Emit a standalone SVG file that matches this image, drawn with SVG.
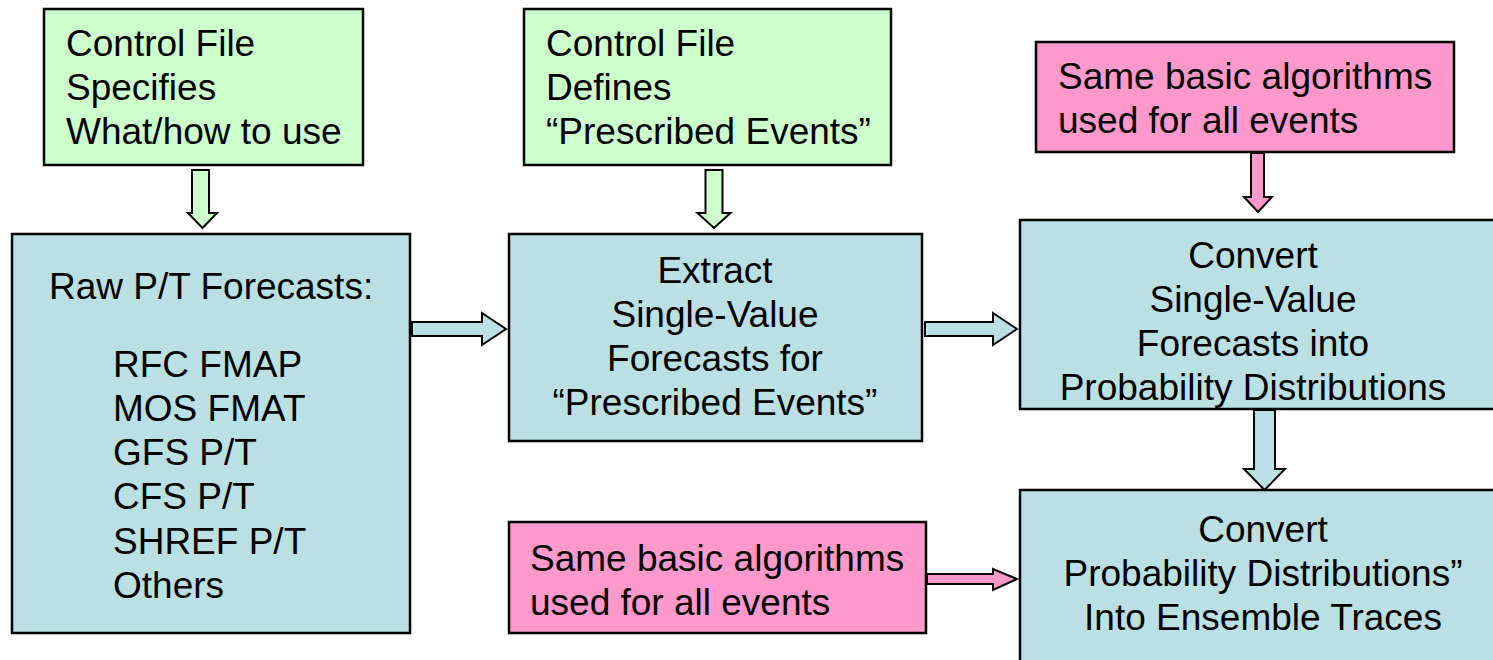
<svg xmlns="http://www.w3.org/2000/svg" width="1493" height="660" viewBox="0 0 1493 660">
<style>
.box{stroke:#000;stroke-width:2.5}
.g{fill:#CCFFCC}
.b{fill:#BAE0E3}
.p{fill:#FF99CC}
.arr{stroke:#000;stroke-width:2;stroke-linejoin:miter}
text{font-family:"Liberation Sans",Arial,sans-serif;font-size:37px;fill:#000}
.c{text-anchor:middle}
</style>
<rect width="1493" height="660" fill="#fff"/>
<g id="ctrl1">
<rect class="box g" x="44" y="9" width="319" height="156"/>
<text x="66" y="56">Control File</text>
<text x="66" y="100">Specifies</text>
<text x="66" y="144">What/how to use</text>
</g>
<g id="ctrl2">
<rect class="box g" x="524" y="9" width="367" height="156"/>
<text x="546" y="56">Control File</text>
<text x="546" y="100">Defines</text>
<text x="546" y="144">“Prescribed Events”</text>
</g>
<g id="algo1">
<rect class="box p" x="1036" y="42" width="418" height="110"/>
<text x="1058" y="89">Same basic algorithms</text>
<text x="1058" y="133">used for all events</text>
</g>
<g id="raw">
<rect class="box b" x="12" y="234" width="398" height="399"/>
<text x="49" y="299">Raw P/T Forecasts:</text>
<text x="113" y="377">RFC FMAP</text>
<text x="113" y="421">MOS FMAT</text>
<text x="113" y="465">GFS P/T</text>
<text x="113" y="509">CFS P/T</text>
<text x="113" y="554">SHREF P/T</text>
<text x="113" y="598">Others</text>
</g>
<g id="extract">
<rect class="box b" x="509" y="234" width="413" height="207"/>
<text class="c" x="715" y="283">Extract</text>
<text class="c" x="715" y="327">Single-Value</text>
<text class="c" x="715" y="371">Forecasts for</text>
<text class="c" x="715" y="415">“Prescribed Events”</text>
</g>
<g id="convert1">
<rect class="box b" x="1020" y="220" width="480" height="189"/>
<text class="c" x="1253" y="268">Convert</text>
<text class="c" x="1253" y="312">Single-Value</text>
<text class="c" x="1253" y="356">Forecasts into</text>
<text class="c" x="1253" y="400">Probability Distributions</text>
</g>
<g id="convert2">
<rect class="box b" x="1020" y="490" width="480" height="180"/>
<text class="c" x="1263" y="542">Convert</text>
<text class="c" x="1263" y="586">Probability Distributions”</text>
<text class="c" x="1263" y="630">Into Ensemble Traces</text>
</g>
<g id="algo2">
<rect class="box p" x="509" y="522" width="417" height="111"/>
<text x="530" y="571">Same basic algorithms</text>
<text x="530" y="615">used for all events</text>
</g>
<g id="connectors">
<polygon class="arr g" points="192,170 209,170 209,213 217,213 202.5,228 188,213 192,213"/>
<polygon class="arr g" points="705.5,170 722.5,170 722.5,213 730.5,213 714,228 697.5,213 705.5,213"/>
<polygon class="arr p" points="1251,153 1264,153 1264,197 1272,197 1258,212 1244,197 1251,197"/>
<polygon class="arr b" points="412,322 482,322 482,313 506,329 482,345 482,336 412,336"/>
<polygon class="arr b" points="925,322 993,322 993,313 1017,329 993,345 993,336 925,336"/>
<polygon class="arr b" points="1254,410 1275,410 1275,469 1285,469 1264.5,490 1244,469 1254,469"/>
<polygon class="arr p" points="927,574 993,574 993,569 1017,579 993,590 993,584 927,584"/>
</g>
</svg>
